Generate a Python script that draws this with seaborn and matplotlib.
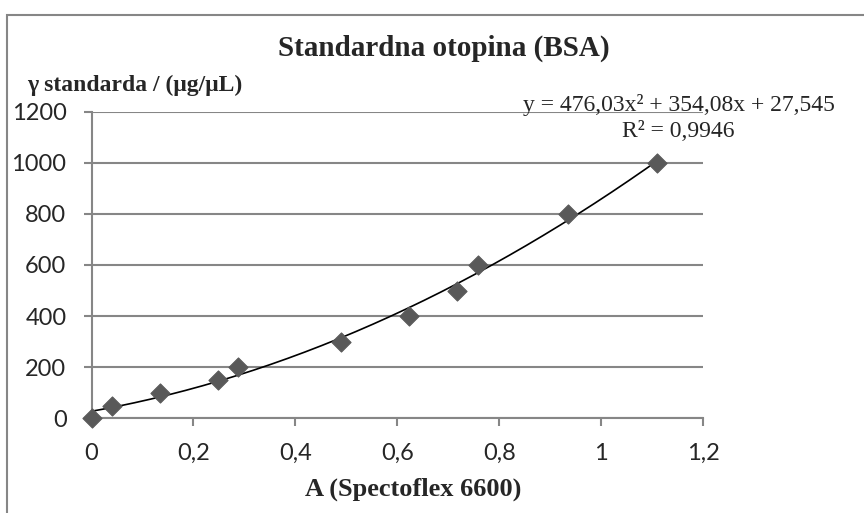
import numpy as np
import pandas as pd
import seaborn as sns
import matplotlib.pyplot as plt
from matplotlib.patches import Rectangle

absorbance = [0.0, 0.041, 0.135, 0.249, 0.288, 0.490, 0.624, 0.717, 0.759, 0.936, 1.110]
concentration = [0, 50, 100, 150, 200, 300, 400, 500, 600, 800, 1000]
fit_coef = [476.03, 354.08, 27.545]

df = pd.DataFrame({"A": absorbance, "c": concentration})

sns.set_style("white")
plt.rcParams['font.family'] = ['Lato', 'DejaVu Sans']

fig = plt.figure(figsize=(8.64, 5.13), dpi=100)
ax = fig.add_axes([91.5 / 864, 1 - 418.3 / 513, 611.5 / 864, 306.7 / 513])

# outer chart border
fig.patches.append(Rectangle((7 / 864, -0.1), 1.2, 1 - 15 / 513 + 0.1,
                             transform=fig.transFigure, fill=False,
                             edgecolor='#868686', linewidth=1.5))

# trendline from the equation
xs = np.linspace(0, max(absorbance), 200)
fit = pd.DataFrame({"A": xs, "c": np.polyval(fit_coef, xs)})
sns.lineplot(data=fit, x="A", y="c", ax=ax, color='black', linewidth=1.2, zorder=3)

sns.scatterplot(data=df, x="A", y="c", ax=ax, marker='D', s=95,
                color='#595959', edgecolor='#595959', zorder=4, clip_on=False)

ax.set_xlim(0, 1.2)
ax.set_ylim(0, 1200)
ax.set_xticks(np.arange(0, 1.21, 0.2))
ax.set_yticks(np.arange(0, 1201, 200))
ax.set_xticklabels(['0', '0,2', '0,4', '0,6', '0,8', '1', '1,2'])
ax.set_yticklabels([str(v) for v in range(0, 1201, 200)])
ax.tick_params(labelsize=17, length=6, width=1.5, color='#868686', bottom=True, left=True)
ax.tick_params(axis='x', pad=12)
ax.tick_params(axis='y', pad=12)
ax.yaxis.grid(True, color='#868686', linewidth=1.5)
ax.set_axisbelow(True)
for side in ['top', 'right']:
    ax.spines[side].set_visible(False)
for side in ['left', 'bottom']:
    ax.spines[side].set_color('#868686')
    ax.spines[side].set_linewidth(1.5)
ax.set_xlabel('')
ax.set_ylabel('')

serif = ['Liberation Serif', 'DejaVu Serif']
fig.text(444 / 864, 1 - 48 / 513, 'Standardna otopina (BSA)', ha='center', va='center',
         fontsize=21, fontweight='bold', family=serif)
fig.text(27 / 864, 1 - 85 / 513, 'γ standarda / (μg/μL)', ha='left', va='center',
         fontsize=17, fontweight='bold', family=serif)
fig.text(413 / 864, 1 - 489 / 513, 'A (Spectoflex 6600)', ha='center', va='center',
         fontsize=19, fontweight='bold', family=serif)
fig.text(835 / 864, 1 - 111 / 513, 'y = 476,03x² + 354,08x + 27,545', ha='right', va='baseline',
         fontsize=17, family=serif)
fig.text(678 / 864, 1 - 137 / 513, 'R² = 0,9946', ha='center', va='baseline',
         fontsize=17, family=serif)

fig.savefig('out.png', dpi=100)
